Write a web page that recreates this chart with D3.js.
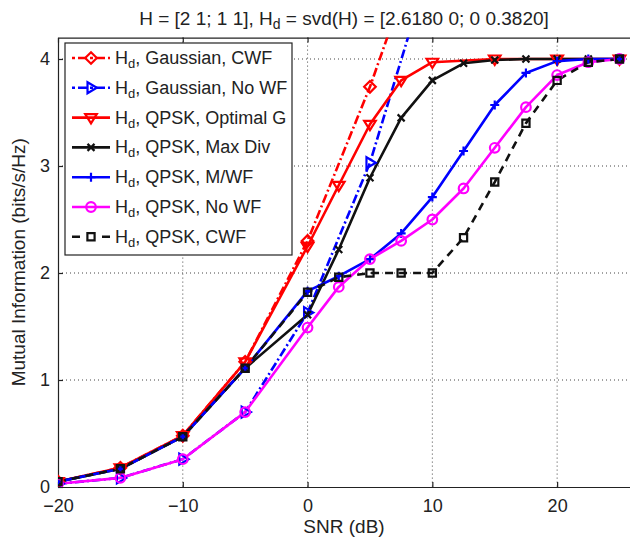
<!DOCTYPE html>
<html>
<head>
<meta charset="utf-8">
<script src="https://cdn.jsdelivr.net/npm/d3@7"></script>
<style>
  html, body { margin: 0; padding: 0; background: #fff; }
  svg { display: block; font-family: "Liberation Sans", Arial, Helvetica, sans-serif; }
</style>
</head>
<body>
<svg id="chart" width="630" height="542"></svg>
<script>
// ---------------- data ----------------
const snrGauss = [-20, -15, -10, -5, 0, 5, 10, 15, 20, 25];
const gaussCWF  = [0.05, 0.18, 0.48, 1.17, 2.30, 3.74, 5.40, 7.00, 8.60, 10.3];
const gaussNoWF = [0.03, 0.085, 0.26, 0.70, 1.63, 3.03, 4.95, 6.60, 8.20, 9.90];

const snrOpt = [-20, -15, -10, -5, 0, 2.5, 5, 7.5, 10, 15, 20, 25];
const qpskOptG = [0.05, 0.18, 0.48, 1.17, 2.25, 2.82, 3.39, 3.80, 3.97, 4.0, 4.0, 4.0];

const snrQ = [-20, -15, -10, -5, 0, 2.5, 5, 7.5, 10, 12.5, 15, 17.5, 20, 22.5, 25];
const qpskMaxDiv = [0.05, 0.17, 0.47, 1.11, 1.61, 2.22, 2.89, 3.45, 3.80, 3.96, 3.99, 4.0, 4.0, 4.0, 4.0];
const qpskMWF    = [0.05, 0.17, 0.47, 1.11, 1.83, 1.97, 2.13, 2.37, 2.71, 3.14, 3.57, 3.87, 3.98, 4.0, 4.0];
const qpskNoWF   = [0.03, 0.085, 0.26, 0.70, 1.49, 1.87, 2.13, 2.30, 2.50, 2.79, 3.17, 3.55, 3.85, 3.97, 4.0];
const qpskCWF    = [0.05, 0.17, 0.47, 1.11, 1.82, 1.96, 2.00, 2.00, 2.00, 2.33, 2.85, 3.40, 3.80, 3.97, 4.0];

const seriesNames = [
  "Gaussian, CWF", "Gaussian, No WF", "QPSK, Optimal G", "QPSK, Max Div",
  "QPSK, M/WF", "QPSK, No WF", "QPSK, CWF"
];
const xTicks = [-20, -10, 0, 10, 20];
const yTicks = [0, 1, 2, 3, 4];

// -------------- layout ---------------
const svg = d3.select("#chart");
const L = 58, R = 632, T = 37.6, B = 487;
const x = d3.scaleLinear().domain([-20, 26]).range([L, R]);
const y = d3.scaleLinear().domain([0, 4.2]).range([B, T]);

const series = [
  {x: snrGauss, y: gaussCWF,  color: "#ff0000", dash: "9,3,2,3", marker: "diamond"},
  {x: snrGauss, y: gaussNoWF, color: "#0000ff", dash: "9,3,2,3", marker: "triR"},
  {x: snrOpt,   y: qpskOptG,  color: "#ff0000", dash: null, marker: "triD"},
  {x: snrQ,     y: qpskMaxDiv,color: "#111111", dash: null, marker: "x"},
  {x: snrQ,     y: qpskMWF,   color: "#0000ff", dash: null, marker: "plus"},
  {x: snrQ,     y: qpskNoWF,  color: "#ff00ff", dash: null, marker: "circle"},
  {x: snrQ,     y: qpskCWF,   color: "#111111", dash: "8,6", marker: "square"}
];

function markerPath(type) {
  const r = 5.8;
  switch (type) {
    case "diamond": return `M0,${-r}L${r},0L0,${r}L${-r},0Z`;
    case "triR": return `M${r},0L${-r*0.6},${-r*0.95}L${-r*0.6},${r*0.95}Z`;
    case "triD": return `M0,${r}L${-r},${-r*0.6}L${r},${-r*0.6}Z`;
    case "x": { const s = 3.5; return `M${-s},${-s}L${s},${s}M${-s},${s}L${s},${-s}`; }
    case "plus": { const s = 4.5; return `M${-s},0L${s},0M0,${-s}L0,${s}`; }
    case "circle": { const c = 4.8; return `M${c},0A${c},${c} 0 1,1 ${-c},0A${c},${c} 0 1,1 ${c},0Z`; }
    case "square": { const s = 3.6; return `M${-s},${-s}L${s},${-s}L${s},${s}L${-s},${s}Z`; }
  }
}

// clip
svg.append("defs").append("clipPath").attr("id", "plotclip")
  .append("rect").attr("x", L).attr("y", T).attr("width", R - L).attr("height", B - T);

// grid
const grid = svg.append("g");
grid.selectAll(".vg").data(xTicks.filter(d => d > -20)).join("line")
  .attr("x1", d => x(d)).attr("x2", d => x(d)).attr("y1", T).attr("y2", B)
  .attr("stroke", "#444").attr("stroke-width", 1).attr("stroke-dasharray", "1,3");
grid.selectAll(".hg").data(yTicks.filter(d => d > 0)).join("line")
  .attr("x1", L).attr("x2", R).attr("y1", d => y(d)).attr("y2", d => y(d))
  .attr("stroke", "#444").attr("stroke-width", 1).attr("stroke-dasharray", "1,3");

// axes
const fontSize = 18;
const gx = svg.append("g").attr("transform", `translate(0,${B})`)
  .call(d3.axisBottom(x).tickValues(xTicks).tickSize(-5).tickSizeOuter(0).tickPadding(12));
const gt = svg.append("g").attr("transform", `translate(0,${T})`)
  .call(d3.axisTop(x).tickValues(xTicks).tickSize(-5).tickSizeOuter(0).tickFormat(""));
const gy = svg.append("g").attr("transform", `translate(${L},0)`)
  .call(d3.axisLeft(y).tickValues(yTicks).tickFormat(d3.format("d")).tickSize(-5).tickSizeOuter(0).tickPadding(8));
[gx, gt, gy].forEach(g => {
  g.selectAll("path.domain").attr("stroke", "#222").attr("stroke-width", 1.2);
  g.selectAll(".tick line").attr("stroke", "#222").attr("stroke-width", 1.2);
  g.selectAll(".tick text").attr("font-size", fontSize).attr("fill", "#222")
    .attr("font-family", "Liberation Sans, Arial, sans-serif");
});

// series
const plot = svg.append("g").attr("clip-path", "url(#plotclip)");
series.forEach(s => {
  const pts = s.x.map((v, i) => [v, s.y[i]]);
  const line = d3.line().x(d => x(d[0])).y(d => y(d[1]));
  plot.append("path").datum(pts).attr("d", line)
    .attr("fill", "none").attr("stroke", s.color).attr("stroke-width", 2.6)
    .attr("stroke-dasharray", s.dash).attr("stroke-linejoin", "round");
});
series.forEach(s => {
  const pts = s.x.map((v, i) => [v, s.y[i]]).filter(d => d[1] <= 4.2);
  plot.selectAll(null).data(pts).join("path")
    .attr("transform", d => `translate(${x(d[0])},${y(d[1])})`)
    .attr("d", markerPath(s.marker))
    .attr("fill", "none").attr("stroke", s.color).attr("stroke-width", 2.2);
});

// legend
const lg = svg.append("g");
const lx = 65, ly = 43, lw = 227, lh = 212;
lg.append("rect").attr("x", lx).attr("y", ly).attr("width", lw).attr("height", lh)
  .attr("fill", "#fff").attr("stroke", "#222").attr("stroke-width", 1.2);
series.forEach((s, i) => {
  const cy = 58 + i * 29.8;
  lg.append("line").attr("x1", 72).attr("x2", 110).attr("y1", cy).attr("y2", cy)
    .attr("stroke", s.color).attr("stroke-width", 2.6)
    .attr("stroke-dasharray", s.dash ? (s.marker === "square" ? "8,22" : "3,3,9,3") : null);
  lg.append("path").attr("transform", `translate(91,${cy})`).attr("d", markerPath(s.marker))
    .attr("fill", "none").attr("stroke", s.color).attr("stroke-width", 2.2);
  const t = lg.append("text").attr("x", 115).attr("y", cy + 6).attr("font-size", fontSize).attr("fill", "#222");
  t.append("tspan").text("H");
  t.append("tspan").attr("font-size", 13).attr("dy", 4).text("d");
  t.append("tspan").attr("dy", -4).text(", " + seriesNames[i]);
});

// title
const title = svg.append("text").attr("x", 344).attr("y", 25).attr("text-anchor", "middle")
  .attr("font-size", 19).attr("fill", "#222");
title.append("tspan").text("H = [2 1; 1 1], H");
title.append("tspan").attr("font-size", 14).attr("dy", 4).text("d");
title.append("tspan").attr("dy", -4).text(" = svd(H) = [2.6180 0; 0 0.3820]");

// axis labels
svg.append("text").attr("x", 344).attr("y", 533).attr("text-anchor", "middle")
  .attr("font-size", 19).attr("fill", "#222").text("SNR (dB)");
svg.append("text").attr("transform", `translate(25,${(T + B) / 2}) rotate(-90)`)
  .attr("text-anchor", "middle").attr("font-size", 19).attr("fill", "#222")
  .text("Mutual Information (bits/s/Hz)");
</script>
</body>
</html>
